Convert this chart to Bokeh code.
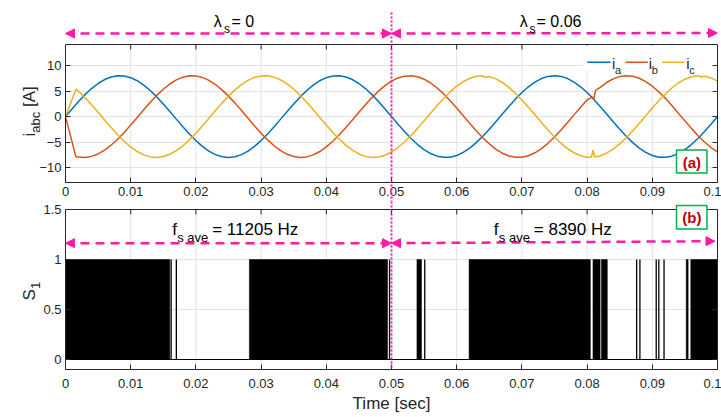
import numpy as np
from bokeh.plotting import figure
from bokeh.layouts import column
from bokeh.core.properties import value
from bokeh.models import Range1d, LinearAxis, FixedTicker, Arrow, NormalHead
from bokeh.embed import file_html
from bokeh.resources import INLINE

# ----------------------------- data -----------------------------
t_grid = np.arange(101) * 0.001          # sampling instants of the phase currents [s]

i_a = [0.00, 1.50, 2.94, 4.29, 5.48, 6.47, 7.24, 7.75, 7.98, 7.94,
       7.61, 7.01, 6.16, 5.10, 3.85, 2.47, 1.00, -0.50, -1.99, -3.41,
       -4.70, -5.83, -6.75, -7.44, -7.86, -8.00, -7.86, -7.44, -6.75, -5.83,
       -4.70, -3.41, -1.99, -0.50, 1.00, 2.47, 3.85, 5.10, 6.16, 7.01,
       7.61, 7.94, 7.98, 7.75, 7.24, 6.47, 5.48, 4.29, 2.94, 1.50,
       0.00, -1.50, -2.94, -4.29, -5.48, -6.47, -7.24, -7.75, -7.98, -7.94,
       -7.61, -7.01, -6.16, -5.10, -3.85, -2.47, -1.00, 0.50, 1.99, 3.41,
       4.70, 5.83, 6.75, 7.44, 7.86, 8.00, 7.86, 7.44, 6.75, 5.83,
       4.70, 3.41, 1.99, 0.50, -1.00, -2.47, -3.85, -5.10, -6.16, -7.01,
       -7.61, -7.94, -7.98, -7.75, -7.24, -6.47, -5.48, -4.29, -2.94, -1.50,
       0.00]
i_b = [0.00, -4.90, -7.91, -7.99, -7.79, -7.31, -6.57, -5.60, -4.43, -3.10,
       -1.66, -0.17, 1.33, 2.79, 4.14, 5.35, 6.37, 7.17, 7.71, 7.97,
       7.96, 7.66, 7.09, 6.27, 5.23, 4.00, 2.63, 1.17, -0.33, -1.83,
       -3.25, -4.57, -5.72, -6.66, -7.38, -7.82, -8.00, -7.89, -7.50, -6.84,
       -5.94, -4.84, -3.56, -2.15, -0.67, 0.84, 2.31, 3.71, 4.97, 6.06,
       6.93, 7.56, 7.91, 7.99, 7.79, 7.31, 6.57, 5.60, 4.43, 3.10,
       1.66, 0.17, -1.33, -2.79, -4.14, -5.35, -6.37, -7.17, -7.71, -7.97,
       -7.96, -7.66, -7.09, -6.27, -5.23, -4.00, -2.63, -1.17, 0.33, 1.83,
       3.25, 3.30, 5.72, 6.66, 7.38, 7.82, 8.00, 7.89, 7.50, 6.84,
       5.94, 4.84, 3.56, 2.15, 0.67, -0.84, -2.31, -3.71, -4.97, -6.06,
       -6.93]
i_c = [0.00, 3.34, 4.97, 3.70, 2.31, 0.84, -0.67, -2.15, -3.55, -4.84,
       -5.95, -6.84, -7.49, -7.89, -7.99, -7.82, -7.37, -6.67, -5.72, -4.56,
       -3.26, -1.83, -0.34, 1.17, 2.63, 4.00, 5.23, 6.27, 7.08, 7.66,
       7.95, 7.98, 7.71, 7.16, 6.38, 5.35, 4.15, 2.79, 1.34, -0.17,
       -1.67, -3.10, -4.42, -5.60, -6.57, -7.31, -7.79, -8.00, -7.91, -7.56,
       -6.93, -6.06, -4.97, -3.70, -2.31, -0.84, 0.67, 2.15, 3.55, 4.84,
       5.95, 6.84, 7.49, 7.89, 7.99, 7.82, 7.37, 6.67, 5.72, 4.56,
       3.26, 1.83, 0.34, -1.17, -2.63, -4.00, -5.23, -6.27, -7.08, -7.66,
       -7.95, -7.20, -7.71, -7.16, -6.38, -5.35, -4.15, -2.79, -1.34, 0.17,
       1.67, 3.10, 4.42, 5.60, 6.57, 7.31, 7.79, 8.00, 7.91, 7.56,
       6.93]
# extra detail points (start-up corner, disturbance near 0.081 s, small notches)
i_a_extra_t, i_a_extra_v = [], []
i_b_extra_t = [0.0016, 0.0808, 0.0813]
i_b_extra_v = [-7.85, 3.80, 5.10]
i_c_extra_t = [0.0016, 0.0642, 0.0807, 0.0809, 0.0812, 0.0974]
i_c_extra_v = [5.35, 7.70, -7.90, -6.50, -7.90, 7.75]
phase_names = ["a", "b", "c"]

t_switch = 0.05
lambda_s = ["0", "0.06"]
fs_ave_hz = ["11205", "8390"]

s1_low, s1_high = 0, 1
burst_start = [0.0000, 0.0282, 0.0539, 0.0619, 0.0809, 0.0822, 0.0952, 0.0959]
burst_end   = [0.0160, 0.0494, 0.0546, 0.0805, 0.0820, 0.0831, 0.0955, 0.1000]
pulse_t = [0.0162, 0.0170, 0.0497, 0.0551, 0.0876, 0.0881, 0.0906, 0.0910, 0.0918]

x_ticks = [0, 0.01, 0.02, 0.03, 0.04, 0.05, 0.06, 0.07, 0.08, 0.09, 0.1]
x_tick_labels = ["0", "0.01", "0.02", "0.03", "0.04", "0.05", "0.06", "0.07", "0.08", "0.09", "0.1"]
i_ticks = [-10, -5, 0, 5, 10]
s_ticks = [0, 0.5, 1, 1.5]
s_tick_labels = ["0", "0.5", "1", "1.5"]
i_lim = (-12.9, 14.1)
s_lim = (-0.1, 1.5)

# ----------------------------- styling / geometry -----------------------------
FONT = "Liberation Sans"
INK = "#262626"
GRID = "#e3e3e3"
PINK = "#ff1aa8"
GREEN = "#00b050"
MARK_RED = "#c00000"
COLORS = ["#0072BD", "#D95319", "#EDB120"]

W, H = 721, 417
FL, FW = 65, 652
X0, X1 = x_ticks[0], x_ticks[-1]
XPX = FW / (X1 - X0)


def fx(px):
    return X0 + (px - FL) / XPX


P1_TOP, P1_BOT, P1_FIG_H = 44, 182, 201
T_UPP = (i_lim[1] - i_lim[0]) / (P1_BOT - P1_TOP)


def fyt(py):
    return i_lim[1] - (py - P1_TOP) * T_UPP


P2_FIG_TOP, P2_TOP, P2_BOT = 201, 209, 369
S_UPP = (s_lim[1] - s_lim[0]) / (P2_BOT - P2_TOP)


def fyb(py):
    return s_lim[1] - (py - P2_TOP) * S_UPP


def merged(vals, et, ev):
    tt = np.concatenate([t_grid, np.asarray(et, dtype=float)])
    vv = np.concatenate([np.asarray(vals, dtype=float), np.asarray(ev, dtype=float)])
    o = np.argsort(tt, kind="stable")
    return tt[o], vv[o]


def style_axis(ax, ticks, bounds, labels=None, standoff=4, hide_labels=False):
    ax.ticker = FixedTicker(ticks=ticks, minor_ticks=[])
    ax.bounds = bounds
    ax.axis_line_color = INK
    ax.axis_line_width = 1
    ax.major_tick_line_color = INK
    ax.major_tick_in = 5
    ax.major_tick_out = 0
    ax.minor_tick_line_color = None
    ax.major_label_text_font = FONT
    ax.major_label_text_font_size = "13px"
    ax.major_label_text_color = INK
    ax.major_label_standoff = standoff
    if labels is not None:
        ax.major_label_overrides = dict(zip(ticks, labels))
    if hide_labels:
        ax.major_label_text_color = None
        ax.major_label_text_font_size = "1px"
        ax.major_label_standoff = 0


def lab(fig, x, y, text, size, color="black", bold=False, angle=0.0,
        align="left", baseline="alphabetic"):
    fig.text(x=[x], y=[y], text=[text], text_font=value(FONT),
             text_font_size=value(f"{size}px"), text_color=color,
             text_font_style="bold" if bold else "normal",
             angle=angle, text_align=align, text_baseline=baseline,
             level="overlay")


def dbl_arrow(fig, xs, ys, xe, ye):
    fig.add_layout(Arrow(
        start=NormalHead(size=9, fill_color=PINK, line_color=PINK, line_width=1),
        end=NormalHead(size=9, fill_color=PINK, line_color=PINK, line_width=1),
        x_start=xs, y_start=ys, x_end=xe, y_end=ye,
        line_color=PINK, line_width=2.5, line_dash="9 6"))


def common_fig(frame_h, border_bottom, y_range):
    return figure(frame_width=FW, frame_height=frame_h,
                  min_border_left=FL, min_border_right=W - FL - FW,
                  min_border_top=0, min_border_bottom=border_bottom,
                  x_range=Range1d(X0, X1), y_range=y_range,
                  toolbar_location=None, output_backend="svg",
                  outline_line_color=None, background_fill_color="white",
                  border_fill_color="white")


# ----------------------------- panel (a): phase currents -----------------------------
p1 = common_fig(P1_BOT, P1_FIG_H - P1_BOT, Range1d(i_lim[0], fyt(0)))
style_axis(p1.xaxis[0], x_ticks, (X0, X1), x_tick_labels, standoff=4)
style_axis(p1.yaxis[0], i_ticks, i_lim, standoff=4)
r1 = LinearAxis()
style_axis(r1, i_ticks, i_lim, hide_labels=True)
p1.add_layout(r1, "right")
p1.xgrid.visible = False
p1.ygrid.ticker = FixedTicker(ticks=i_ticks, minor_ticks=[])
p1.ygrid.grid_line_color = GRID

inner = x_ticks[1:-1]
n_in = len(inner)
p1.segment(x0=inner, y0=[i_lim[0]] * n_in, x1=inner, y1=[i_lim[1]] * n_in,
           line_color=GRID, line_width=1)
p1.segment(x0=[X0], y0=[i_lim[1]], x1=[X1], y1=[i_lim[1]], line_color=INK, line_width=1)
p1.segment(x0=inner, y0=[i_lim[1]] * n_in, x1=inner, y1=[i_lim[1] - 5 * T_UPP] * n_in,
           line_color=INK, line_width=1)

series = [merged(i_a, i_a_extra_t, i_a_extra_v),
          merged(i_b, i_b_extra_t, i_b_extra_v),
          merged(i_c, i_c_extra_t, i_c_extra_v)]
for (tt, vv), col in zip(series, COLORS):
    p1.line(tt, vv, line_color=col, line_width=1.5)

# legend (drawn by hand because of the subscripts)
p1.quad(left=[fx(583)], right=[fx(715)], top=[fyt(45)], bottom=[fyt(70)],
        fill_color="white", line_color=None)
leg_x = [(586.7, 610.0), (625.0, 647.3), (661.7, 684.0)]
leg_i = [611.5, 648.2, 685.8]
leg_sub = [614.6, 651.2, 688.8]
for (a, b), xi, xs, name, col in zip(leg_x, leg_i, leg_sub, phase_names, COLORS):
    p1.segment(x0=[fx(a)], y0=[fyt(61.7)], x1=[fx(b)], y1=[fyt(61.7)], line_color=col, line_width=1.5)
    lab(p1, fx(xi), fyt(63.3), "i", 15, color=INK)
    lab(p1, fx(xs), fyt(69.0), name, 11, color=INK)

# (a) tag
p1.quad(left=[fx(676)], right=[fx(706.5)], top=[fyt(149.5)], bottom=[fyt(172.5)],
        fill_color="white", line_color=GREEN, line_width=1.5)
lab(p1, fx(691.3), fyt(161.5), "(a)", 15, color=MARK_RED, bold=True,
    align="center", baseline="middle")

# lambda annotations + arrows above the panel
dbl_arrow(p1, X0, fyt(33), t_switch, fyt(33))
dbl_arrow(p1, t_switch, fyt(33), X1, fyt(32.5))
for (xl, xs, xe), lam in zip([(213.3, 223.5, 231.0), (519.3, 529.0, 536.0)], lambda_s):
    lab(p1, fx(xl), fyt(20.8), "λ", 16)
    lab(p1, fx(xs), fyt(28.5), "s", 12)
    lab(p1, fx(xe), fyt(20.8), "= " + lam, 16)

# switching-instant marker
p1.segment(x0=[t_switch], y0=[fyt(12)], x1=[t_switch], y1=[fyt(P1_FIG_H)],
           line_color=PINK, line_width=2, line_dash="2 2", level="overlay")

# y label  i_abc [A]
ROT = np.pi / 2
lab(p1, fx(29), fyt(136), "i", 17, color=INK, angle=ROT)
lab(p1, fx(35), fyt(132.2), "abc", 13, color=INK, angle=ROT)
lab(p1, fx(29), fyt(106.5), "[A]", 17, color=INK, angle=ROT)

# ----------------------------- panel (b): switching signal S1 -----------------------------
p2 = common_fig(P2_BOT - P2_FIG_TOP, H - P2_BOT, Range1d(s_lim[0], fyb(P2_FIG_TOP)))
p2.x_range = p1.x_range
style_axis(p2.xaxis[0], x_ticks, (X0, X1), x_tick_labels, standoff=9)
p2.xaxis[0].axis_label = "Time [sec]"
p2.xaxis[0].axis_label_text_font = FONT
p2.xaxis[0].axis_label_text_font_size = "17px"
p2.xaxis[0].axis_label_text_font_style = "normal"
p2.xaxis[0].axis_label_text_color = INK
p2.xaxis[0].axis_label_standoff = 3
style_axis(p2.yaxis[0], s_ticks, s_lim, s_tick_labels, standoff=4)
r2 = LinearAxis()
style_axis(r2, s_ticks, s_lim, hide_labels=True)
p2.add_layout(r2, "right")
p2.xgrid.visible = False
p2.ygrid.ticker = FixedTicker(ticks=s_ticks, minor_ticks=[])
p2.ygrid.grid_line_color = GRID

p2.segment(x0=inner, y0=[s_lim[0]] * n_in, x1=inner, y1=[s_lim[1]] * n_in,
           line_color=GRID, line_width=1)
p2.segment(x0=[X0], y0=[s_lim[1]], x1=[X1], y1=[s_lim[1]], line_color=INK, line_width=1)
p2.segment(x0=inner, y0=[s_lim[1]] * n_in, x1=inner, y1=[s_lim[1] - 5 * S_UPP] * n_in,
           line_color=INK, line_width=1)

p2.line(x=[t_grid[0], t_grid[-1]], y=[s1_low, s1_low], line_color="black", line_width=1.2)
p2.quad(left=burst_start, right=burst_end, bottom=s1_low, top=s1_high,
        fill_color="black", line_color="black", line_width=0.5)
p2.segment(x0=pulse_t, y0=[s1_low] * len(pulse_t), x1=pulse_t, y1=[s1_high] * len(pulse_t),
           line_color="black", line_width=1.3)

dbl_arrow(p2, X0, fyb(242.7), t_switch, fyb(242.7))
dbl_arrow(p2, t_switch, fyb(242.7), fx(714.5), fyb(240.7))
for (xf, xs, xe), fs in zip([(171.7, 176.7, 211.7), (493.3, 498.3, 533.3)], fs_ave_hz):
    lab(p2, fx(xf), fyb(228.6), "f", 17)
    lab(p2, fx(xs), fyb(236.8), "s ave", 13)
    lab(p2, fx(xe), fyb(228.6), "= " + fs + " Hz", 17)

p2.quad(left=[fx(676)], right=[fx(706.5)], top=[fyb(205)], bottom=[fyb(228.5)],
        fill_color="white", line_color=GREEN, line_width=1.5)
lab(p2, fx(691.3), fyb(217), "(b)", 15, color=MARK_RED, bold=True,
    align="center", baseline="middle")

p2.segment(x0=[t_switch], y0=[fyb(P2_FIG_TOP)], x1=[t_switch], y1=[fyb(367)],
           line_color=PINK, line_width=2, line_dash="2 2", level="overlay")

lab(p2, fx(28.5), fyb(300), "S", 17, color=INK, angle=ROT)
lab(p2, fx(35), fyb(288.5), "1", 13, color=INK, angle=ROT)

layout = column(p1, p2)
open("out.html", "w").write(file_html(layout, INLINE, title="Phase currents and switching signal"))
